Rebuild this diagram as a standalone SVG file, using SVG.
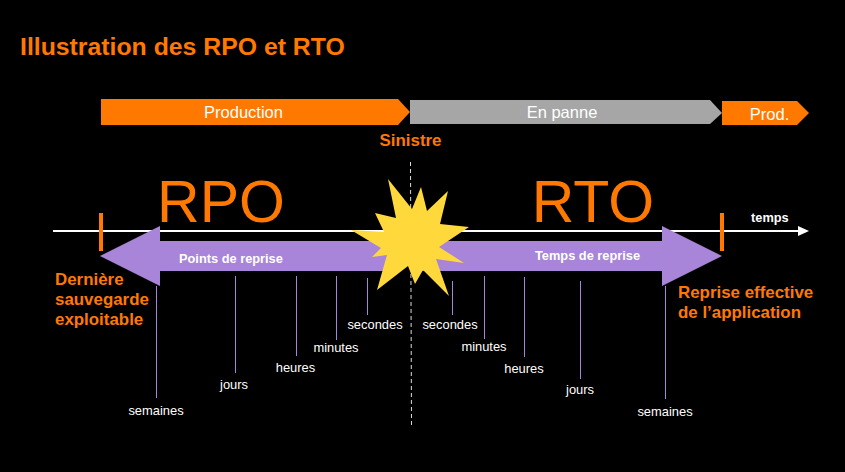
<svg xmlns="http://www.w3.org/2000/svg" width="845" height="472" viewBox="0 0 845 472">
<style>
text{font-family:"Liberation Sans",Arial,sans-serif}
.o{fill:#ff7900}
.b{font-weight:bold;font-size:16.900px;fill:#ff7900}
.s{font-size:12.900px;fill:#fff;text-anchor:middle}
.t{font-size:12.800px;font-weight:bold;fill:#fff}
.v{stroke:#a885d8;stroke-width:1;fill:none}
.p{fill:#a885d8}
.bar{font-size:16.500px;fill:#fff;text-anchor:middle}
</style>
<rect width="845" height="472" fill="#000"/>
<text id="title" x="20" y="55" font-size="24.800" font-weight="bold" class="o">Illustration des RPO et RTO</text>
<g id="production"><polygon class="o" points="101,99 398,99 410,112 398,125 101,125"/><text class="bar" x="243.500" y="118">Production</text></g>
<g id="panne"><polygon fill="#a6a6a6" points="410,100 710,100 722,113 710,124 410,124"/><text class="bar" x="562" y="118">En panne</text></g>
<g id="prod"><polygon class="o" points="722,101 797,101 809,113 797,125 722,125"/><text class="bar" x="769.500" y="120">Prod.</text></g>
<text id="sinistre" x="410.500" y="146" class="b" text-anchor="middle">Sinistre</text>
<text id="rpo" x="221" y="222" font-size="59" class="o" text-anchor="middle">RPO</text>
<text id="rto" x="593" y="222" font-size="59" class="o" text-anchor="middle">RTO</text>
<g id="connectors">
<line x1="53" y1="231" x2="800" y2="231" stroke="#fff" stroke-width="2"/>
<polygon points="798,226 809,231 798,236" fill="#fff"/>
<line x1="410.500" y1="162" x2="411.500" y2="426" stroke="#ddd" stroke-width="1" stroke-dasharray="4 3"/>
<line class="v" x1="156.500" y1="286" x2="156.500" y2="398"/>
<line class="v" x1="235.500" y1="276" x2="235.500" y2="373"/>
<line class="v" x1="296.500" y1="276" x2="296.500" y2="356"/>
<line class="v" x1="336.500" y1="276" x2="336.500" y2="340"/>
<line class="v" x1="367.500" y1="278" x2="367.500" y2="315"/>
<line class="v" x1="452.500" y1="281" x2="452.500" y2="315"/>
<line class="v" x1="484.500" y1="276" x2="484.500" y2="339"/>
<line class="v" x1="524.500" y1="277" x2="524.500" y2="357"/>
<line class="v" x1="580.500" y1="281" x2="580.500" y2="379"/>
<line class="v" x1="665.500" y1="286" x2="665.500" y2="399"/>
</g>
<g id="markers"><rect class="o" x="99" y="213" width="4" height="38"/><rect class="o" x="720" y="213" width="4" height="38"/></g>
<g id="rpo-arrow"><polygon class="p" points="100,256 160,226 160,241 400,241 400,271 160,271 160,286"/><text class="t" x="179" y="263">Points de reprise</text></g>
<g id="rto-arrow"><polygon class="p" points="420,241 662,241 662,226 722,256 662,286 662,271 420,271"/><text class="t" x="535" y="260">Temps de reprise</text></g>
<g id="burst"><polygon fill="#ffd93b" points="388,179 412,209 421,187 427,211 448,191 440,224 469,227 439,247 464,263 436,259 449,296 423,270 415,284 408,266 377,290 387,255 372,257 381,248 351,230 384,232 375,213 396,218"/></g>
<g id="left-label"><text class="b" x="55" y="285">Dernière</text><text class="b" x="55" y="305">sauvegarde</text><text class="b" x="55" y="325">exploitable</text></g>
<g id="right-label"><text class="b" x="678" y="298">Reprise effective</text><text class="b" x="678" y="318">de l’application</text></g>
<text class="t" x="751" y="222">temps</text>
<g id="labels">
<text class="s" x="156" y="415">semaines</text>
<text class="s" x="234" y="389">jours</text>
<text class="s" x="295.500" y="372">heures</text>
<text class="s" x="336" y="352">minutes</text>
<text class="s" x="375" y="329">secondes</text>
<text class="s" x="450" y="329">secondes</text>
<text class="s" x="484" y="351">minutes</text>
<text class="s" x="524" y="373">heures</text>
<text class="s" x="580" y="394">jours</text>
<text class="s" x="665" y="416">semaines</text>
</g>
</svg>
